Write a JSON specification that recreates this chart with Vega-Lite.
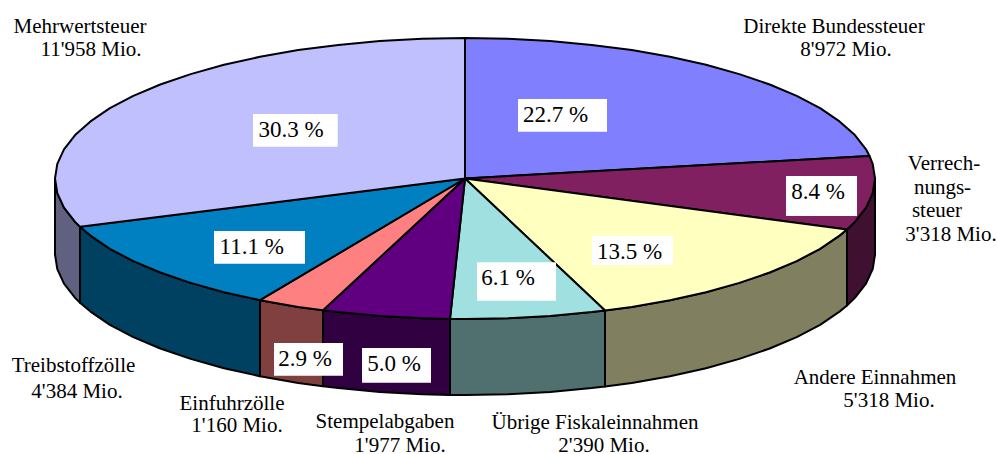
{"$schema":"https://vega.github.io/schema/vega-lite/v6.json","autosize":{"type":"none"},"width":997,"height":454,"padding":0,"background":"white","config":{"view":{"stroke":null}},
"datasets":{
"sides":[
{"p":"Mehrwertsteuer Rand","i":1,"x":55,"y":178.5},{"p":"Mehrwertsteuer Rand","i":2,"x":57.3,"y":193.2},{"p":"Mehrwertsteuer Rand","i":3,"x":64,"y":207.7},{"p":"Mehrwertsteuer Rand","i":4,"x":75.1,"y":221.9},{"p":"Mehrwertsteuer Rand","i":5,"x":80,"y":226.8},{"p":"Mehrwertsteuer Rand","i":6,"x":80,"y":302.8},{"p":"Mehrwertsteuer Rand","i":7,"x":75.1,"y":297.9},{"p":"Mehrwertsteuer Rand","i":8,"x":64,"y":283.7},{"p":"Mehrwertsteuer Rand","i":9,"x":57.3,"y":269.2},{"p":"Mehrwertsteuer Rand","i":10,"x":55,"y":254.5},
{"p":"Treibstoffzölle Rand","i":1,"x":80,"y":226.8},{"p":"Treibstoffzölle Rand","i":2,"x":90.5,"y":235.6},{"p":"Treibstoffzölle Rand","i":3,"x":109.9,"y":248.8},{"p":"Treibstoffzölle Rand","i":4,"x":133.3,"y":261.1},{"p":"Treibstoffzölle Rand","i":5,"x":160.3,"y":272.5},{"p":"Treibstoffzölle Rand","i":6,"x":190.7,"y":282.9},{"p":"Treibstoffzölle Rand","i":7,"x":224,"y":292.2},{"p":"Treibstoffzölle Rand","i":8,"x":260,"y":300.2},{"p":"Treibstoffzölle Rand","i":9,"x":260,"y":376.2},{"p":"Treibstoffzölle Rand","i":10,"x":224,"y":368.2},{"p":"Treibstoffzölle Rand","i":11,"x":190.7,"y":358.9},{"p":"Treibstoffzölle Rand","i":12,"x":160.3,"y":348.5},{"p":"Treibstoffzölle Rand","i":13,"x":133.3,"y":337.1},{"p":"Treibstoffzölle Rand","i":14,"x":109.9,"y":324.8},{"p":"Treibstoffzölle Rand","i":15,"x":90.5,"y":311.6},{"p":"Treibstoffzölle Rand","i":16,"x":80,"y":302.8},
{"p":"Einfuhrzölle Rand","i":1,"x":260,"y":300.2},{"p":"Einfuhrzölle Rand","i":2,"x":298.2,"y":306.9},{"p":"Einfuhrzölle Rand","i":3,"x":323,"y":310.3},{"p":"Einfuhrzölle Rand","i":4,"x":323,"y":386.3},{"p":"Einfuhrzölle Rand","i":5,"x":298.2,"y":382.9},{"p":"Einfuhrzölle Rand","i":6,"x":260,"y":376.2},
{"p":"Stempelabgaben Rand","i":1,"x":323,"y":310.3},{"p":"Stempelabgaben Rand","i":2,"x":338.3,"y":312.1},{"p":"Stempelabgaben Rand","i":3,"x":379.8,"y":315.9},{"p":"Stempelabgaben Rand","i":4,"x":422.2,"y":318.2},{"p":"Stempelabgaben Rand","i":5,"x":450,"y":319},{"p":"Stempelabgaben Rand","i":6,"x":450,"y":395},{"p":"Stempelabgaben Rand","i":7,"x":422.2,"y":394.2},{"p":"Stempelabgaben Rand","i":8,"x":379.8,"y":391.9},{"p":"Stempelabgaben Rand","i":9,"x":338.3,"y":388.1},{"p":"Stempelabgaben Rand","i":10,"x":323,"y":386.3},
{"p":"Übrige Fiskaleinnahmen Rand","i":1,"x":450,"y":319},{"p":"Übrige Fiskaleinnahmen Rand","i":2,"x":465,"y":319},{"p":"Übrige Fiskaleinnahmen Rand","i":3,"x":507.8,"y":318.2},{"p":"Übrige Fiskaleinnahmen Rand","i":4,"x":550.2,"y":315.9},{"p":"Übrige Fiskaleinnahmen Rand","i":5,"x":591.7,"y":312.1},{"p":"Übrige Fiskaleinnahmen Rand","i":6,"x":605,"y":310.5},{"p":"Übrige Fiskaleinnahmen Rand","i":7,"x":605,"y":386.5},{"p":"Übrige Fiskaleinnahmen Rand","i":8,"x":591.7,"y":388.1},{"p":"Übrige Fiskaleinnahmen Rand","i":9,"x":550.2,"y":391.9},{"p":"Übrige Fiskaleinnahmen Rand","i":10,"x":507.8,"y":394.2},{"p":"Übrige Fiskaleinnahmen Rand","i":11,"x":465,"y":395},{"p":"Übrige Fiskaleinnahmen Rand","i":12,"x":450,"y":395},
{"p":"Andere Einnahmen Rand","i":1,"x":605,"y":310.5},{"p":"Andere Einnahmen Rand","i":2,"x":631.8,"y":306.9},{"p":"Andere Einnahmen Rand","i":3,"x":670,"y":300.2},{"p":"Andere Einnahmen Rand","i":4,"x":706,"y":292.2},{"p":"Andere Einnahmen Rand","i":5,"x":739.3,"y":282.9},{"p":"Andere Einnahmen Rand","i":6,"x":769.7,"y":272.5},{"p":"Andere Einnahmen Rand","i":7,"x":796.7,"y":261.1},{"p":"Andere Einnahmen Rand","i":8,"x":820.1,"y":248.8},{"p":"Andere Einnahmen Rand","i":9,"x":839.5,"y":235.6},{"p":"Andere Einnahmen Rand","i":10,"x":847,"y":229.5},{"p":"Andere Einnahmen Rand","i":11,"x":847,"y":305.5},{"p":"Andere Einnahmen Rand","i":12,"x":839.5,"y":311.6},{"p":"Andere Einnahmen Rand","i":13,"x":820.1,"y":324.8},{"p":"Andere Einnahmen Rand","i":14,"x":796.7,"y":337.1},{"p":"Andere Einnahmen Rand","i":15,"x":769.7,"y":348.5},{"p":"Andere Einnahmen Rand","i":16,"x":739.3,"y":358.9},{"p":"Andere Einnahmen Rand","i":17,"x":706,"y":368.2},{"p":"Andere Einnahmen Rand","i":18,"x":670,"y":376.2},{"p":"Andere Einnahmen Rand","i":19,"x":631.8,"y":382.9},{"p":"Andere Einnahmen Rand","i":20,"x":605,"y":386.5},
{"p":"Verrechnungssteuer Rand","i":1,"x":847,"y":229.5},{"p":"Verrechnungssteuer Rand","i":2,"x":854.9,"y":221.9},{"p":"Verrechnungssteuer Rand","i":3,"x":866,"y":207.7},{"p":"Verrechnungssteuer Rand","i":4,"x":872.7,"y":193.2},{"p":"Verrechnungssteuer Rand","i":5,"x":875,"y":178.5},{"p":"Verrechnungssteuer Rand","i":6,"x":875,"y":254.5},{"p":"Verrechnungssteuer Rand","i":7,"x":872.7,"y":269.2},{"p":"Verrechnungssteuer Rand","i":8,"x":866,"y":283.7},{"p":"Verrechnungssteuer Rand","i":9,"x":854.9,"y":297.9},{"p":"Verrechnungssteuer Rand","i":10,"x":847,"y":305.5}
],
"tops":[
{"p":"Direkte Bundessteuer","i":0,"x":465,"y":178.5},{"p":"Direkte Bundessteuer","i":1,"x":465,"y":38},{"p":"Direkte Bundessteuer","i":2,"x":507.8,"y":38.8},{"p":"Direkte Bundessteuer","i":3,"x":550.2,"y":41.1},{"p":"Direkte Bundessteuer","i":4,"x":591.7,"y":44.9},{"p":"Direkte Bundessteuer","i":5,"x":631.8,"y":50.1},{"p":"Direkte Bundessteuer","i":6,"x":670,"y":56.8},{"p":"Direkte Bundessteuer","i":7,"x":706,"y":64.8},{"p":"Direkte Bundessteuer","i":8,"x":739.3,"y":74.1},{"p":"Direkte Bundessteuer","i":9,"x":769.7,"y":84.5},{"p":"Direkte Bundessteuer","i":10,"x":796.7,"y":95.9},{"p":"Direkte Bundessteuer","i":11,"x":820.1,"y":108.2},{"p":"Direkte Bundessteuer","i":12,"x":839.5,"y":121.4},{"p":"Direkte Bundessteuer","i":13,"x":854.9,"y":135.1},{"p":"Direkte Bundessteuer","i":14,"x":866,"y":149.3},{"p":"Direkte Bundessteuer","i":15,"x":869.5,"y":156},
{"p":"Verrechnungssteuer","i":0,"x":465,"y":178.5},{"p":"Verrechnungssteuer","i":1,"x":869.5,"y":156},{"p":"Verrechnungssteuer","i":2,"x":872.7,"y":163.8},{"p":"Verrechnungssteuer","i":3,"x":875,"y":178.5},{"p":"Verrechnungssteuer","i":4,"x":872.7,"y":193.2},{"p":"Verrechnungssteuer","i":5,"x":866,"y":207.7},{"p":"Verrechnungssteuer","i":6,"x":854.9,"y":221.9},{"p":"Verrechnungssteuer","i":7,"x":847,"y":229.5},
{"p":"Andere Einnahmen","i":0,"x":465,"y":178.5},{"p":"Andere Einnahmen","i":1,"x":847,"y":229.5},{"p":"Andere Einnahmen","i":2,"x":839.5,"y":235.6},{"p":"Andere Einnahmen","i":3,"x":820.1,"y":248.8},{"p":"Andere Einnahmen","i":4,"x":796.7,"y":261.1},{"p":"Andere Einnahmen","i":5,"x":769.7,"y":272.5},{"p":"Andere Einnahmen","i":6,"x":739.3,"y":282.9},{"p":"Andere Einnahmen","i":7,"x":706,"y":292.2},{"p":"Andere Einnahmen","i":8,"x":670,"y":300.2},{"p":"Andere Einnahmen","i":9,"x":631.8,"y":306.9},{"p":"Andere Einnahmen","i":10,"x":605,"y":310.5},
{"p":"Übrige Fiskaleinnahmen","i":0,"x":465,"y":178.5},{"p":"Übrige Fiskaleinnahmen","i":1,"x":605,"y":310.5},{"p":"Übrige Fiskaleinnahmen","i":2,"x":591.7,"y":312.1},{"p":"Übrige Fiskaleinnahmen","i":3,"x":550.2,"y":315.9},{"p":"Übrige Fiskaleinnahmen","i":4,"x":507.8,"y":318.2},{"p":"Übrige Fiskaleinnahmen","i":5,"x":465,"y":319},{"p":"Übrige Fiskaleinnahmen","i":6,"x":450,"y":319},
{"p":"Stempelabgaben","i":0,"x":465,"y":178.5},{"p":"Stempelabgaben","i":1,"x":450,"y":319},{"p":"Stempelabgaben","i":2,"x":422.2,"y":318.2},{"p":"Stempelabgaben","i":3,"x":379.8,"y":315.9},{"p":"Stempelabgaben","i":4,"x":338.3,"y":312.1},{"p":"Stempelabgaben","i":5,"x":323,"y":310.3},
{"p":"Einfuhrzölle","i":0,"x":465,"y":178.5},{"p":"Einfuhrzölle","i":1,"x":323,"y":310.3},{"p":"Einfuhrzölle","i":2,"x":298.2,"y":306.9},{"p":"Einfuhrzölle","i":3,"x":260,"y":300.2},
{"p":"Treibstoffzölle","i":0,"x":465,"y":178.5},{"p":"Treibstoffzölle","i":1,"x":260,"y":300.2},{"p":"Treibstoffzölle","i":2,"x":224,"y":292.2},{"p":"Treibstoffzölle","i":3,"x":190.7,"y":282.9},{"p":"Treibstoffzölle","i":4,"x":160.3,"y":272.5},{"p":"Treibstoffzölle","i":5,"x":133.3,"y":261.1},{"p":"Treibstoffzölle","i":6,"x":109.9,"y":248.8},{"p":"Treibstoffzölle","i":7,"x":90.5,"y":235.6},{"p":"Treibstoffzölle","i":8,"x":80,"y":226.8},
{"p":"Mehrwertsteuer","i":0,"x":465,"y":178.5},{"p":"Mehrwertsteuer","i":1,"x":80,"y":226.8},{"p":"Mehrwertsteuer","i":2,"x":75.1,"y":221.9},{"p":"Mehrwertsteuer","i":3,"x":64,"y":207.7},{"p":"Mehrwertsteuer","i":4,"x":57.3,"y":193.2},{"p":"Mehrwertsteuer","i":5,"x":55,"y":178.5},{"p":"Mehrwertsteuer","i":6,"x":57.3,"y":163.8},{"p":"Mehrwertsteuer","i":7,"x":64,"y":149.3},{"p":"Mehrwertsteuer","i":8,"x":75.1,"y":135.1},{"p":"Mehrwertsteuer","i":9,"x":90.5,"y":121.4},{"p":"Mehrwertsteuer","i":10,"x":109.9,"y":108.2},{"p":"Mehrwertsteuer","i":11,"x":133.3,"y":95.9},{"p":"Mehrwertsteuer","i":12,"x":160.3,"y":84.5},{"p":"Mehrwertsteuer","i":13,"x":190.7,"y":74.1},{"p":"Mehrwertsteuer","i":14,"x":224,"y":64.8},{"p":"Mehrwertsteuer","i":15,"x":260,"y":56.8},{"p":"Mehrwertsteuer","i":16,"x":298.2,"y":50.1},{"p":"Mehrwertsteuer","i":17,"x":338.3,"y":44.9},{"p":"Mehrwertsteuer","i":18,"x":379.8,"y":41.1},{"p":"Mehrwertsteuer","i":19,"x":422.2,"y":38.8},{"p":"Mehrwertsteuer","i":20,"x":465,"y":38}
],
"shares":[
{"t":"22.7 %","x0":518,"x1":607,"y0":99,"y1":131.7,"tx":555.7,"ty":121.7},
{"t":"8.4 %","x0":786,"x1":857,"y0":176,"y1":216,"tx":818,"ty":199},
{"t":"13.5 %","x0":592,"x1":673,"y0":236,"y1":265,"tx":629.5,"ty":259},
{"t":"6.1 %","x0":477,"x1":556,"y0":262.3,"y1":300.7,"tx":508,"ty":285},
{"t":"5.0 %","x0":362,"x1":431,"y0":348,"y1":382.7,"tx":394,"ty":370.7},
{"t":"2.9 %","x0":274,"x1":343,"y0":343,"y1":375.7,"tx":305,"ty":366},
{"t":"11.1 %","x0":214,"x1":305,"y0":231,"y1":263.7,"tx":251.7,"ty":254},
{"t":"30.3 %","x0":253,"x1":337.7,"y0":114,"y1":146.7,"tx":291,"ty":136.7}
],
"labels":[
{"t":"Mehrwertsteuer","x":80,"y":33},{"t":"11'958 Mio.","x":91,"y":56},
{"t":"Direkte Bundessteuer","x":834,"y":33},{"t":"8'972 Mio.","x":846,"y":56},
{"t":"Verrech-","x":944,"y":170},{"t":"nungs-","x":942.5,"y":193.5},{"t":"steuer","x":937,"y":217},{"t":"3'318 Mio.","x":951,"y":240.7},
{"t":"Andere Einnahmen","x":875,"y":384},{"t":"5'318 Mio.","x":889,"y":406.7},
{"t":"Übrige Fiskaleinnahmen","x":595,"y":429},{"t":"2'390 Mio.","x":604,"y":452},
{"t":"Stempelabgaben","x":385,"y":428},{"t":"1'977 Mio.","x":400,"y":452},
{"t":"Einfuhrzölle","x":232,"y":410},{"t":"1'160 Mio.","x":237,"y":432},
{"t":"Treibstoffzölle","x":73.5,"y":372},{"t":"4'384 Mio.","x":77,"y":398}
]},
"layer":[
{"data":{"name":"sides"},"mark":{"type":"line","interpolate":"linear-closed","stroke":"black","strokeWidth":2,"strokeJoin":"round"},
"encoding":{"x":{"field":"x","type":"quantitative","scale":{"domain":[0,997],"nice":false},"axis":null},"y":{"field":"y","type":"quantitative","scale":{"domain":[454,0],"nice":false},"axis":null},"order":{"field":"i","type":"quantitative"},
"fill":{"field":"p","type":"nominal","legend":null,"scale":{"domain":["Direkte Bundessteuer","Verrechnungssteuer","Andere Einnahmen","Übrige Fiskaleinnahmen","Stempelabgaben","Einfuhrzölle","Treibstoffzölle","Mehrwertsteuer","Verrechnungssteuer Rand","Andere Einnahmen Rand","Übrige Fiskaleinnahmen Rand","Stempelabgaben Rand","Einfuhrzölle Rand","Treibstoffzölle Rand","Mehrwertsteuer Rand"],"range":["#8080FF","#802060","#FFFFC0","#A0E0E0","#600080","#FF8080","#0080C0","#C0C0FF","#401030","#808060","#507070","#300040","#804040","#004060","#606080"]}}}},
{"data":{"name":"tops"},"mark":{"type":"line","interpolate":"linear-closed","stroke":"black","strokeWidth":2,"strokeJoin":"round"},
"encoding":{"x":{"field":"x","type":"quantitative","axis":null},"y":{"field":"y","type":"quantitative","axis":null},"order":{"field":"i","type":"quantitative"},"fill":{"field":"p","type":"nominal","legend":null}}},
{"data":{"name":"shares"},"mark":{"type":"rect","fill":"white"},
"encoding":{"x":{"field":"x0","type":"quantitative","axis":null},"x2":{"field":"x1"},"y":{"field":"y0","type":"quantitative","axis":null},"y2":{"field":"y1"}}},
{"data":{"name":"shares"},"mark":{"type":"text","font":"Liberation Serif","fontSize":23,"baseline":"alphabetic","align":"center","fill":"black"},
"encoding":{"x":{"field":"tx","type":"quantitative","axis":null},"y":{"field":"ty","type":"quantitative","axis":null},"text":{"field":"t"}}},
{"data":{"name":"labels"},"mark":{"type":"text","font":"Liberation Serif","fontSize":21,"baseline":"alphabetic","align":"center","fill":"black"},
"encoding":{"x":{"field":"x","type":"quantitative","axis":null},"y":{"field":"y","type":"quantitative","axis":null},"text":{"field":"t"}}}
]}
